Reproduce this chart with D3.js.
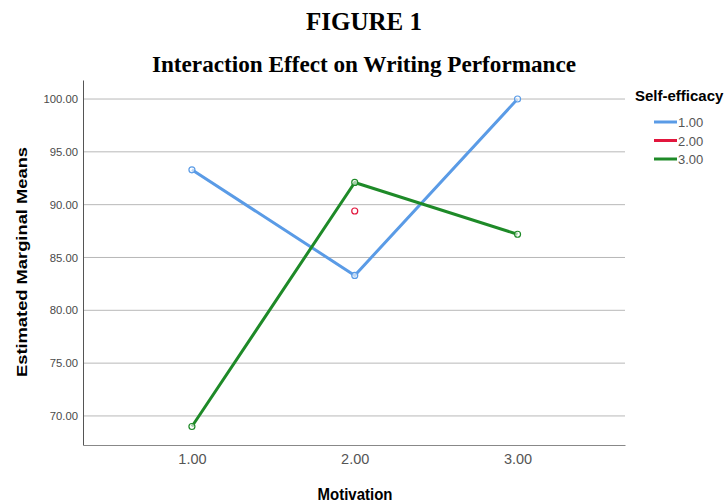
<!DOCTYPE html>
<html><head><meta charset="utf-8">
<script src="https://cdn.jsdelivr.net/npm/d3@7"></script>
<style>body{margin:0;background:#fff}svg{display:block}</style>
</head><body>
<script>
const categories = [1, 2, 3];
const categoryLabels = ["1.00", "2.00", "3.00"];
const seriesNames = ["1.00", "2.00", "3.00"];
const series1 = [93.3, 83.3, 100.0];
const series2 = [null, 89.4, null];
const series3 = [69.0, 92.1, 87.2];
const yTicks = [70, 75, 80, 85, 90, 95, 100];
const colors = ["#5a9be6", "#e2163d", "#1e8a28"];

const W = 726, H = 504;
const svg = d3.select("body").append("svg").attr("width", W).attr("height", H);

const x = d3.scaleLinear().domain([0.331, 3.66]).range([83, 625]);
const y = d3.scaleLinear().domain([67.25, 101.8]).range([445, 80]);

svg.append("text").attr("x", 364).attr("y", 30).attr("text-anchor", "middle")
  .attr("font-family", "Liberation Serif, Times New Roman, serif").attr("font-weight", "bold")
  .attr("font-size", 25).text("FIGURE 1");
svg.append("text").attr("x", 364).attr("y", 72).attr("text-anchor", "middle")
  .attr("font-family", "Liberation Serif, Times New Roman, serif").attr("font-weight", "bold")
  .attr("font-size", 23.2).text("Interaction Effect on Writing Performance");

// gridlines
svg.append("g").selectAll("line").data(yTicks).join("line")
  .attr("x1", 83).attr("x2", 625).attr("y1", d => y(d)).attr("y2", d => y(d))
  .attr("stroke", "#b8b8b8").attr("stroke-width", 1);

// y axis
const yAxis = svg.append("g").attr("transform", "translate(83,0)")
  .call(d3.axisLeft(y).tickValues(yTicks).tickFormat(d3.format(".2f")).tickSize(0).tickPadding(5));
yAxis.select(".domain").attr("stroke", "#555");
yAxis.selectAll("text").attr("font-family", "Liberation Sans, Arial, sans-serif").attr("font-size", 11.3).attr("fill", "#4a4a4a");

// x axis
const xAxis = svg.append("g").attr("transform", "translate(0,445)")
  .call(d3.axisBottom(x).tickValues(categories).tickFormat((d, i) => categoryLabels[i]).tickSize(0).tickPadding(9));
xAxis.select(".domain").attr("stroke", "#888");
xAxis.selectAll("text").attr("font-family", "Liberation Sans, Arial, sans-serif").attr("font-size", 14.5).attr("fill", "#555");

// axis titles
svg.append("text").attr("transform", "translate(355,500) scale(1,1.15)").attr("text-anchor", "middle")
  .attr("font-family", "Liberation Sans, Arial, sans-serif").attr("font-weight", "bold").attr("font-size", 15)
  .text("Motivation");
svg.append("text").attr("transform", "translate(27,262) rotate(-90)").attr("text-anchor", "middle")
  .attr("font-family", "Liberation Sans, Arial, sans-serif").attr("font-weight", "bold").attr("font-size", 14.5)
  .attr("textLength", 230).attr("lengthAdjust", "spacingAndGlyphs")
  .text("Estimated Marginal Means");

const allSeries = [series1, series2, series3];
const line = d3.line().defined(d => d.v != null).x(d => x(d.c)).y(d => y(d.v));
allSeries.forEach((s, i) => {
  const pts = s.map((v, j) => ({c: categories[j], v}));
  svg.append("path").datum(pts).attr("d", line).attr("fill", "none")
    .attr("stroke", colors[i]).attr("stroke-width", 3).attr("stroke-linejoin", "round");
  svg.append("g").selectAll("circle").data(pts.filter(d => d.v != null)).join("circle")
    .attr("cx", d => x(d.c)).attr("cy", d => y(d.v)).attr("r", 3)
    .attr("fill", "#fff").attr("fill-opacity", 0.6).attr("stroke", colors[i]).attr("stroke-width", 1.2);
});

// legend
svg.append("text").attr("x", 635).attr("y", 101)
  .attr("font-family", "Liberation Sans, Arial, sans-serif").attr("font-weight", "bold").attr("font-size", 15)
  .text("Self-efficacy");
seriesNames.forEach((n, i) => {
  const ly = 122 + i * 18.5;
  svg.append("line").attr("x1", 654).attr("x2", 677).attr("y1", ly).attr("y2", ly)
    .attr("stroke", colors[i]).attr("stroke-width", 3);
  svg.append("text").attr("x", 678).attr("y", ly + 5)
    .attr("font-family", "Liberation Sans, Arial, sans-serif").attr("font-size", 13).attr("fill", "#555")
    .text(n);
});
</script>
</body></html>
